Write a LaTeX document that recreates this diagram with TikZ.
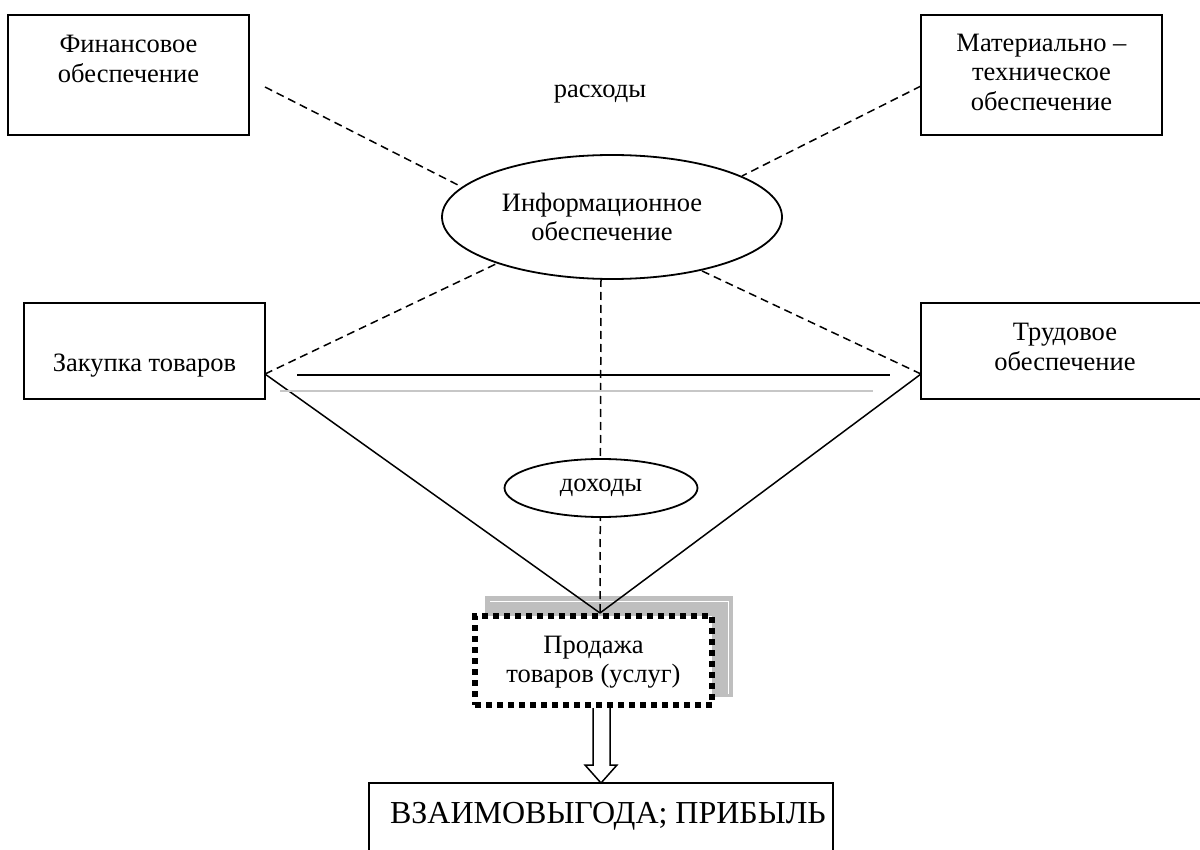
\documentclass[tikz,border=0pt]{standalone}
\usepackage{fontspec}
\setmainfont{Liberation Serif}
\usetikzlibrary{shapes.geometric}
\pgfdeclarelayer{background}
\pgfdeclarelayer{canvas}
\pgfsetlayers{canvas,background,main}
\newcommand\fsn{\fontsize{26.5}{29.5}\selectfont}
\newcommand\fsb{\fontsize{32}{36}\selectfont}
\begin{document}
\begin{tikzpicture}[x=1pt,y=-1pt,
  box/.style={draw, line width=1.8pt, inner sep=0pt},
  ell/.style={draw, ellipse, fill=white, line width=1.8pt, inner sep=0pt},
  txt/.style={font=\fsn, align=center, inner sep=0pt},
  dsh/.style={line width=1.5pt, dash pattern=on 8pt off 5pt},
  sol/.style={line width=1.5pt},
  dotbox/.style={draw, fill=white, line width=6pt, dash pattern=on 6pt off 5pt, inner sep=0pt, font=\fsn, align=center},
]
\useasboundingbox (0,0) rectangle (1200,850);
\begin{pgfonlayer}{canvas}
  \fill[white] (0,0) rectangle (1200,850);
\end{pgfonlayer}

% boxes
\node[box, minimum width=241pt, minimum height=120pt] (fin) at (128.5,75) {};
\node[txt] (fint) at (128.5,59) {Финансовое\\обеспечение};
\node[box, minimum width=241pt, minimum height=120pt] (mat) at (1041.5,75) {};
\node[txt] (matt) at (1041.5,72) {Материально –\\техническое\\обеспечение};
\node[box, minimum width=241pt, minimum height=96pt] (zak) at (144.5,351) {};
\node[txt, anchor=base] (zakt) at (144.5,371) {Закупка товаров};
\node[box, minimum width=288pt, minimum height=96pt] (trud) at (1065,351) {};
\node[txt] (trudt) at (1065,347) {Трудовое\\обеспечение};

% ellipses
\node[ell, minimum width=340pt, minimum height=124pt] (info) at (612,217) {};
\node[txt] (infot) at (602,217) {Информационное\\обеспечение};
\node[txt, anchor=base] (rash) at (600,98) {расходы};
\node[ell, minimum width=193pt, minimum height=58pt, font=\fsn] (doh) at (601,488) {доходы};

% sales box
\node[dotbox, minimum width=237pt, minimum height=89pt, text depth=2pt] (sale) at (593.5,660.5) {Продажа\\товаров (услуг)};

% result box
\node[box, minimum width=464pt, minimum height=110pt] (res) at (601,838) {};
\node[txt, font=\fsb, anchor=base] (rest) at (608,823) {ВЗАИМОВЫГОДА; ПРИБЫЛЬ};

% coordinates
\coordinate (fa) at (265,87);
\coordinate (fb) at (458,185);
\coordinate (ma) at (921,86);
\coordinate (mb) at (742,176);
\coordinate (zc) at (265,374);
\coordinate (tc) at (921,374);
\coordinate (ia) at (498,263);
\coordinate (ib) at (700,270);
\coordinate (iv) at (601,279);
\coordinate (apex) at (600,613);
\coordinate (h1) at (297,375);
\coordinate (h2) at (890,375);
\coordinate (g1) at (280,391);
\coordinate (g2) at (873,391);

\begin{pgfonlayer}{background}
  % shadow of sales box
  \fill[black!25] (485,596) rectangle (733,697);
  \draw[white, line width=1pt] (490,601) -- (728,601) -- (728,694);
  % connectors
  \draw[dsh] (fa) -- (fb);
  \draw[dsh] (ma) -- (mb);
  \draw[dsh] (zc) -- (ia);
  \draw[dsh] (tc) -- (ib);
  \draw[dsh] (iv) -- (apex);
  \draw[sol] (zc) -- (apex);
  \draw[sol] (tc) -- (apex);
  \draw[line width=2pt] (h1) -- (h2);
  \draw[line width=2.5pt, black!22] (g1) -- (g2);
  % block arrow
  \draw[line width=1.5pt, fill=white] (593,708) -- (593,765) -- (585,765) -- (601,783) -- (617,765) -- (610,765) -- (610,708);
\end{pgfonlayer}
\end{tikzpicture}
\end{document}
